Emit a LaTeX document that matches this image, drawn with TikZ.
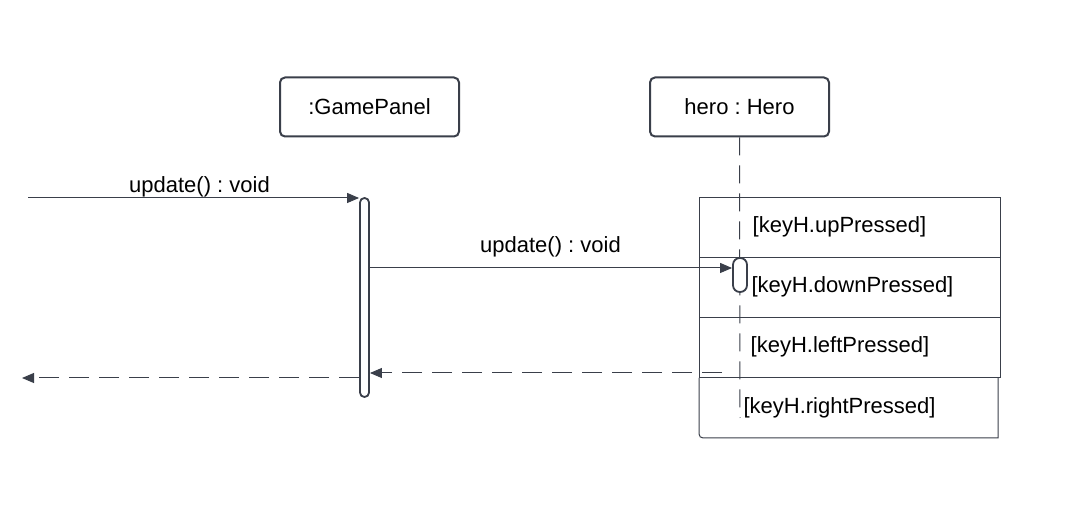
\documentclass[tikz,border=0pt]{standalone}
\usepackage{fontspec}
\setmainfont{Liberation Sans}
\usetikzlibrary{arrows.meta}
\definecolor{umlgray}{HTML}{3A3F4A}

\begin{document}
\frenchspacing
\begin{tikzpicture}[x=0.5pt, y=-0.5pt, font=\fontsize{11}{13}\selectfont, umlgray,
    objbox/.style={draw, fill=white, rounded corners=2.5pt, line width=1pt, minimum width=89.5pt, minimum height=29.5pt, inner sep=0pt, text=black},
    actbar/.style={draw, fill=white, line width=0.9pt, inner sep=0pt},
    msg/.style={line width=0.5pt, -{Triangle[length=6pt, width=5pt]}},
    retmsg/.style={msg, dash pattern=on 10pt off 5pt},
    lbl/.style={inner sep=0pt, text=black}]
        \useasboundingbox (0,0) rectangle (1072,513);
        \coordinate (caller) at (28,198);
        \coordinate (call2) at (370,268);
        \coordinate (back2) at (722,373);
        \coordinate (back1) at (22,378);
        \coordinate (lifeend) at (740,418);

        % Objects.
        \node[objbox] (panel) at (369.5,107) {:GamePanel};
        \node[objbox] (hero) at (739.5,107) {hero : Hero};

        % Lifeline.
        \draw[line width=0.5pt, dash pattern=on 9pt off 5pt] (hero.south) -- (lifeend);

        % Alt frame.
        \draw[line width=0.5pt] (699,198) rectangle (1000,378);
        \draw[line width=0.5pt] (699,258) -- (1000,258);
        \draw[line width=0.5pt] (699,318) -- (1000,318);
        \draw[line width=0.5pt] (699,378) [rounded corners=2pt] -- (699,438) [sharp corners] -- (998,438) -- (998,378);
        \node[lbl] (up) at (839.5,227) {[keyH.upPressed]};
        \node[lbl] (down) at (852.5,287) {[keyH.downPressed]};
        \node[lbl] (left) at (840,347) {[keyH.leftPressed]};
        \node[lbl] (right) at (839.5,408) {[keyH.rightPressed]};

        % Activations.
        \node[actbar, rounded corners=2.2pt, minimum width=4.5pt, minimum height=99.5pt] (act1) at (364.5,297.5) {};
        \node[actbar, rounded corners=3.4pt, minimum width=7pt, minimum height=17pt] (act2) at (740,275) {};

        %update() call
        \draw[msg] (caller) -- (caller -| act1.west);
        \node[lbl] (upd1) at (199.5,187) {update() : void};

        %update() to hero
        \draw[msg] (call2 -| act1.east) -- (call2 -| act2.west);
        \node[lbl] (upd2) at (550.5,247) {update() : void};

        %returns
        \draw[retmsg] (back2) -- (back2 -| act1.east);
        \draw[retmsg] (back1 -| act1.west) -- (back1);

\end{tikzpicture}
\end{document}
